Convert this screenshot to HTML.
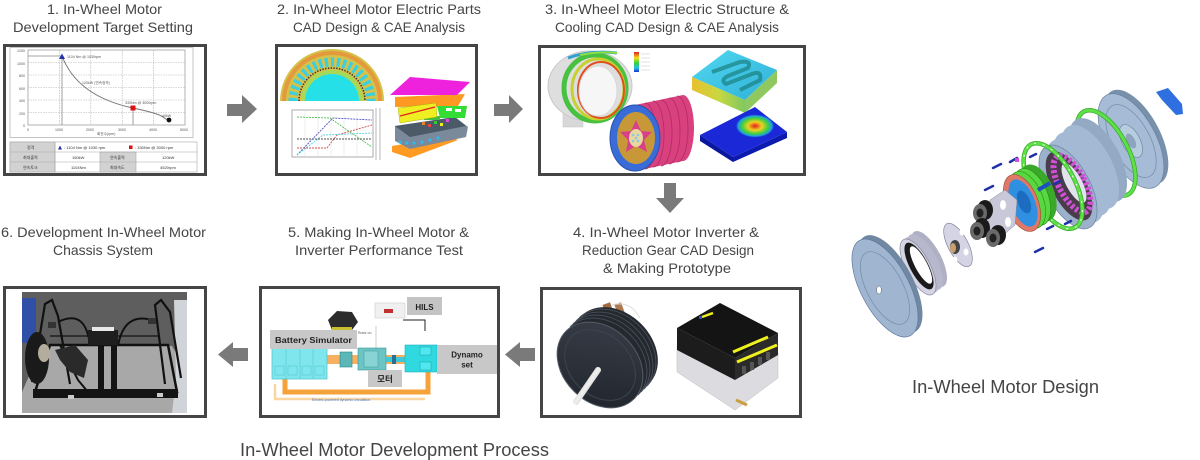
<!DOCTYPE html>
<html><head><meta charset="utf-8"><style>
html,body{margin:0;padding:0;background:#fff;}
svg{display:block;}
text{font-family:"Liberation Sans","Noto Sans CJK KR",sans-serif;}
</style></head><body>
<svg width="1200" height="460" viewBox="0 0 1200 460" xmlns="http://www.w3.org/2000/svg">
<defs>
<linearGradient id="rb" x1="0" y1="0" x2="0" y2="1">
<stop offset="0" stop-color="#e02020"/><stop offset="0.3" stop-color="#f0e020"/><stop offset="0.55" stop-color="#30d040"/><stop offset="0.8" stop-color="#20c0e0"/><stop offset="1" stop-color="#2030d0"/>
</linearGradient>
<linearGradient id="cy" x1="0" y1="0" x2="1" y2="1">
<stop offset="0" stop-color="#50d8f0"/><stop offset="1" stop-color="#30b0d8"/>
</linearGradient>
<linearGradient id="cyside" x1="0" y1="0" x2="1" y2="0">
<stop offset="0" stop-color="#e8c030"/><stop offset="0.5" stop-color="#c8d840"/><stop offset="1" stop-color="#80c860"/>
</linearGradient>
<radialGradient id="heat" cx="0.5" cy="0.5" r="0.5">
<stop offset="0" stop-color="#e02020"/><stop offset="0.35" stop-color="#f0d020"/><stop offset="0.65" stop-color="#40d040"/><stop offset="0.85" stop-color="#20a0e0"/><stop offset="1" stop-color="#1a28d0" stop-opacity="0"/>
</radialGradient>
<linearGradient id="shaft" x1="0" y1="0" x2="1" y2="1">
<stop offset="0" stop-color="#999"/><stop offset="0.5" stop-color="#f0f0f0"/><stop offset="1" stop-color="#888"/>
</linearGradient>
<linearGradient id="face" x1="0" y1="0" x2="1" y2="1">
<stop offset="0" stop-color="#3a404a"/><stop offset="1" stop-color="#1e232a"/>
</linearGradient>
</defs>

<!-- ===== Titles ===== -->
<g font-size="14" fill="#454545">
<text x="47" y="14" textLength="115" lengthAdjust="spacingAndGlyphs">1. In-Wheel Motor</text>
<text x="13" y="32" textLength="180" lengthAdjust="spacingAndGlyphs">Development Target Setting</text>
<text x="277" y="14" textLength="204" lengthAdjust="spacingAndGlyphs">2. In-Wheel Motor Electric Parts</text>
<text x="293" y="32" textLength="172" lengthAdjust="spacingAndGlyphs">CAD Design &amp; CAE Analysis</text>
<text x="545" y="14" textLength="244" lengthAdjust="spacingAndGlyphs">3. In-Wheel Motor Electric Structure &amp;</text>
<text x="555" y="32" textLength="224" lengthAdjust="spacingAndGlyphs">Cooling CAD Design &amp; CAE Analysis</text>
<text x="573" y="237" textLength="186" lengthAdjust="spacingAndGlyphs">4. In-Wheel Motor Inverter &amp;</text>
<text x="582" y="255" textLength="172" lengthAdjust="spacingAndGlyphs">Reduction Gear CAD Design</text>
<text x="603" y="273" textLength="128" lengthAdjust="spacingAndGlyphs">&amp; Making Prototype</text>
<text x="288" y="237" textLength="181" lengthAdjust="spacingAndGlyphs">5. Making In-Wheel Motor &amp;</text>
<text x="295" y="255" textLength="168" lengthAdjust="spacingAndGlyphs">Inverter Performance Test</text>
<text x="1" y="237" textLength="205" lengthAdjust="spacingAndGlyphs">6. Development In-Wheel Motor</text>
<text x="53" y="255" textLength="100" lengthAdjust="spacingAndGlyphs">Chassis System</text>
</g>
<text x="240" y="456" font-size="18" fill="#454545" textLength="309" lengthAdjust="spacingAndGlyphs">In-Wheel Motor Development Process</text>
<text x="912" y="393" font-size="18" fill="#454545" textLength="187" lengthAdjust="spacingAndGlyphs">In-Wheel Motor Design</text>

<!-- ===== Arrows ===== -->
<g fill="#7a7a7a">
<polygon points="227,104 242,104 242,95 257,109 242,123 242,116 227,116"/>
<polygon points="494,104 509,104 509,95 523,109 509,123 509,116 494,116"/>
<polygon points="664,183 676,183 676,198 684,198 670,213 656,198 664,198"/>
<polygon points="535,348 520,348 520,342 505,354.5 520,367 520,361 535,361"/>
<polygon points="248,348 233,348 233,342 218,354.5 233,367 233,361 248,361"/>
</g>

<!-- ===== Box 1 ===== -->
<g>
<rect x="4.5" y="45.5" width="201" height="129" fill="#fff" stroke="#454545" stroke-width="3"/>
<rect x="10" y="47.5" width="183" height="90" fill="#fff" stroke="#c4c4c4" stroke-width="1"/>
<rect x="28" y="50" width="157" height="75" fill="#fff" stroke="#a0a0a0" stroke-width="0.8"/>
<g stroke="#b0b0b0" stroke-width="0.6" stroke-dasharray="1.5 1">
<line x1="59.4" y1="50" x2="59.4" y2="125"/><line x1="90.8" y1="50" x2="90.8" y2="125"/>
<line x1="122.2" y1="50" x2="122.2" y2="125"/><line x1="153.6" y1="50" x2="153.6" y2="125"/>
<line x1="28" y1="62.5" x2="185" y2="62.5"/><line x1="28" y1="75" x2="185" y2="75"/>
<line x1="28" y1="87.5" x2="185" y2="87.5"/><line x1="28" y1="100" x2="185" y2="100"/>
<line x1="28" y1="112.5" x2="185" y2="112.5"/>
</g>
<g stroke="#888" stroke-width="0.8" fill="none">
<line x1="28" y1="56" x2="62" y2="56"/><line x1="62" y1="56" x2="62" y2="125"/>
<line x1="133" y1="108" x2="133" y2="125"/>
<path d="M62,56 C72,82 95,100 133,108 S160,118 169,120" stroke="#777" stroke-width="1"/>
</g>
<polygon points="59,59 65,59 62,53.5" fill="#2233aa"/>
<rect x="130.5" y="105.5" width="5" height="5" fill="#dd1111"/>
<circle cx="169" cy="120" r="2.4" fill="#111"/>
<g font-size="3.6" fill="#555">
<text x="67" y="58">1104 Nm @ 1030rpm</text>
<text x="82" y="84">120kW (연속정격)</text>
<text x="125" y="104">330Nm @ 3000rpm</text>
<text x="162" y="117">40kW</text>
<text x="17" y="52">1200</text><text x="17" y="65">1000</text><text x="19" y="77">800</text>
<text x="19" y="90">600</text><text x="19" y="102">400</text><text x="19" y="115">200</text><text x="23" y="127">0</text>
<text x="27" y="131">0</text><text x="55" y="131">1000</text><text x="86" y="131">2000</text>
<text x="118" y="131">3000</text><text x="149" y="131">4000</text><text x="180" y="131">5000</text>
<text x="97" y="135">회전수(rpm)</text>
</g>
<g stroke="#a8a8a8" stroke-width="0.6">
<rect x="10" y="142" width="187" height="30" fill="#fff"/>
<rect x="10" y="142" width="45" height="30" fill="#d2d2d2"/>
<rect x="100" y="152" width="36" height="20" fill="#d2d2d2"/>
<line x1="10" y1="152" x2="197" y2="152"/><line x1="10" y1="162" x2="197" y2="162"/>
<line x1="55" y1="142" x2="55" y2="172"/>
</g>
<polygon points="58,149.5 62,149.5 60,145.5" fill="#2233aa"/>
<rect x="129" y="145.5" width="3.5" height="3.5" fill="#dd1111"/>
<g font-size="4" fill="#333">
<text x="27" y="149">정격</text><text x="64" y="149">: 1104 Nm @ 1030 rpm</text><text x="135" y="149">: 330Nm @ 3000 rpm</text>
<text x="23" y="159">최대출력</text><text x="72" y="159">150kW</text><text x="110" y="159">연속출력</text><text x="162" y="159">120kW</text>
<text x="23" y="169">연속토크</text><text x="71" y="169">1104Nm</text><text x="110" y="169">최대속도</text><text x="160" y="169">4520rpm</text>
</g>
</g>

<!-- ===== Box 2 ===== -->
<g>
<rect x="276.5" y="45.5" width="200" height="129" fill="#fff" stroke="#454545" stroke-width="3"/>
<path d="M280,101 A52,52 0 0 1 384,101 Z" fill="#d4c24a"/>
<path d="M284,101 A48,48 0 0 1 380,101" fill="none" stroke="#e49a3c" stroke-width="4"/>
<path d="M293,101 A39,39 0 0 1 371,101" fill="none" stroke="#3ccfe0" stroke-width="9" stroke-dasharray="3.2 2.8"/>
<path d="M299,101 A33,33 0 0 1 365,101" fill="none" stroke="#3a3030" stroke-width="1.6" stroke-dasharray="1.4 1.4"/>
<path d="M301,101 A31,31 0 0 1 363,101 Z" fill="#a8d858"/>
<path d="M305,101 A27,27 0 0 1 359,101 Z" fill="#26e0e8"/>
<rect x="292" y="110" width="81" height="47" fill="#fff" stroke="#888" stroke-width="0.7"/>
<g stroke="#ddd" stroke-width="0.5">
<line x1="305" y1="110" x2="305" y2="157"/><line x1="318" y1="110" x2="318" y2="157"/><line x1="331" y1="110" x2="331" y2="157"/>
<line x1="344" y1="110" x2="344" y2="157"/><line x1="357" y1="110" x2="357" y2="157"/>
</g>
<line x1="376" y1="108" x2="376" y2="160" stroke="#888" stroke-width="0.6"/>
<line x1="380" y1="108" x2="380" y2="160" stroke="#888" stroke-width="0.6"/>
<g fill="none" stroke-width="0.9" stroke-dasharray="2 1">
<polyline points="297,155 333,118 372,120" stroke="#5050c0"/>
<polyline points="297,117 330,118 347,130 372,147" stroke="#50c050"/>
<polyline points="297,148 327,148 337,135 372,125" stroke="#d05050"/>
<polyline points="297,155 323,135 372,133" stroke="#50d0e0"/>
<line x1="297" y1="139" x2="372" y2="139" stroke="#505050"/>
</g>
<polygon points="392,146 448,136 458,140 410,158 392,152" fill="#ff9a22"/>
<polygon points="395,126 455,117 468,127 466,137 410,149 395,141" fill="#7a8a9a"/>
<polygon points="395,126 455,117 466,126 410,137" fill="#4c5a68"/>
<g fill="#30b8f0"><circle cx="400" cy="142" r="1.6"/><circle cx="407" cy="143" r="1.6"/><circle cx="414" cy="143" r="1.6"/><circle cx="422" cy="142" r="1.6"/><circle cx="430" cy="140" r="1.6"/><circle cx="438" cy="138" r="1.6"/></g>
<g><rect x="422" y="122" width="3" height="3" fill="#f08020"/><rect x="428" y="124" width="3" height="3" fill="#f04040"/><rect x="434" y="121" width="3" height="3" fill="#30d030"/><rect x="440" y="123" width="3" height="3" fill="#f0f020"/><rect x="446" y="119" width="3" height="3" fill="#f040f0"/><rect x="424" y="116" width="16" height="4" fill="#40c040"/></g>
<polygon points="395,97 465,94 458,106 395,107" fill="#ff9922"/>
<polygon points="390,95 410,77 470,82 457,95" fill="#ee22dd"/>
<polygon points="398,108 436,103 437,117 400,123" fill="#eeee22" stroke="#a0a000" stroke-width="0.4"/>
<line x1="400" y1="116" x2="435" y2="107" stroke="#e02020" stroke-width="1.2"/>
<polygon points="437,106 467,106 465,118 440,118" fill="#33dd33"/>
<rect x="446" y="108" width="6" height="3" fill="#fff"/><rect x="455" y="109" width="6" height="3" fill="#fff"/>
</g>

<!-- ===== Box 3 ===== -->
<g>
<rect x="539.5" y="46.5" width="265" height="128" fill="#fff" stroke="#454545" stroke-width="3"/>
<rect x="563" y="108" width="20" height="19" fill="#d8d8d8" stroke="#c4c4c4" stroke-width="0.5"/>
<ellipse cx="590" cy="86" rx="42" ry="35" fill="#dedede" stroke="#c8c8c8"/>
<ellipse cx="595" cy="88" rx="31" ry="33" fill="none" stroke="#48c040" stroke-width="5"/>
<ellipse cx="598" cy="89" rx="26" ry="30" fill="none" stroke="#c8d030" stroke-width="3"/>
<ellipse cx="601" cy="90" rx="23" ry="28" fill="none" stroke="#e05020" stroke-width="2"/>
<ellipse cx="598" cy="91" rx="19" ry="25" fill="#f6f6f6" stroke="#d8d8d8"/>
<path d="M568,58 Q590,50 617,53" stroke="#30a0d0" stroke-width="3" fill="none"/>
<path d="M580,55 Q600,51 617,53" stroke="#90e040" stroke-width="2" fill="none"/>
<rect x="634" y="52" width="5" height="20" fill="url(#rb)"/>
<g stroke="#ccc" stroke-width="0.6"><line x1="641" y1="54" x2="650" y2="54"/><line x1="641" y1="58" x2="650" y2="58"/><line x1="641" y1="62" x2="650" y2="62"/><line x1="641" y1="66" x2="650" y2="66"/><line x1="641" y1="70" x2="650" y2="70"/></g>
<polygon points="692,77 745,100 745,113 692,90" fill="url(#cyside)"/>
<polygon points="745,100 777,70 777,83 745,113" fill="#90c860"/>
<polygon points="692,77 728,50 777,70 745,100" fill="url(#cy)"/>
<path d="M712,72 L740,62 Q752,60 748,68 L728,76 Q720,80 726,84 L752,74 Q762,70 760,80 L740,90" stroke="#1a8080" stroke-width="4" fill="none" opacity="0.7"/>
<polygon points="700,135 733,157 733,162 700,141" fill="#0a18a0"/>
<polygon points="733,157 787,132 787,138 733,162" fill="#0c1ab0"/>
<polygon points="700,135 755,107 787,132 733,157" fill="#1a28d8"/>
<ellipse cx="755" cy="126" rx="20" ry="12" fill="url(#heat)"/>
<path d="M635,105 L683,95 A11,33 0 0 1 683,161 L635,171 Z" fill="#d8407e"/>
<g stroke="#b02c64" stroke-width="0.8" fill="none">
<path d="M645,103 A11,33 0 0 1 645,169"/><path d="M653,101 A11,33 0 0 1 653,167"/><path d="M661,100 A11,33 0 0 1 661,166"/><path d="M669,98 A11,33 0 0 1 669,164"/><path d="M677,96 A11,33 0 0 1 677,162"/>
</g>
<ellipse cx="635" cy="138" rx="25" ry="33" fill="#3a6cd8" stroke="#2850b0"/>
<ellipse cx="636" cy="138" rx="19" ry="26" fill="#c89838"/>
<polygon points="636,120 641,131 652,132 644,140 647,152 636,146 626,152 628,140 620,132 631,131" fill="#d8408a"/>
<ellipse cx="636" cy="138" rx="7" ry="9" fill="#e8d8a0"/>
<g fill="#88c8e8"><circle cx="633" cy="135" r="1.3"/><circle cx="638" cy="135" r="1.3"/><circle cx="633" cy="141" r="1.3"/><circle cx="638" cy="141" r="1.3"/><circle cx="636" cy="138" r="1.3"/></g>
</g>

<!-- ===== Box 4 ===== -->
<g>
<rect x="541.5" y="288.5" width="259" height="128" fill="#fff" stroke="#454545" stroke-width="3"/>
<rect x="606" y="303" width="8" height="22" fill="#a06a40" transform="rotate(-20 610 314)"/>
<rect x="618" y="303" width="7" height="22" fill="#b07a50" transform="rotate(-20 621 314)"/>
<path d="M612,305 Q630,300 640,318" stroke="#ddd" stroke-width="1" fill="none"/>
<g fill="#242930">
<ellipse cx="615" cy="350" rx="48" ry="37" transform="rotate(45 615 350)"/>
<ellipse cx="612" cy="353" rx="48" ry="37" transform="rotate(45 612 353)"/>
<ellipse cx="609" cy="356" rx="48" ry="37" transform="rotate(45 609 356)"/>
<ellipse cx="606" cy="359" rx="48" ry="37" transform="rotate(45 606 359)"/>
<ellipse cx="603" cy="362" rx="48" ry="37" transform="rotate(45 603 362)"/>
</g>
<g fill="none" stroke="#4a505a" stroke-width="0.9">
<path d="M566,331 A48,37 45 0 1 634,399" transform="translate(4,-4)"/>
<path d="M566,331 A48,37 45 0 1 634,399" transform="translate(7,-7)"/>
<path d="M566,331 A48,37 45 0 1 634,399" transform="translate(10,-10)"/>
<path d="M566,331 A48,37 45 0 1 634,399" transform="translate(13,-13)"/>
</g>
<ellipse cx="600" cy="365" rx="48" ry="37" fill="url(#face)" stroke="#555b66" stroke-width="1" transform="rotate(45 600 365)"/>
<ellipse cx="600" cy="365" rx="40" ry="30" fill="none" stroke="#3e444e" stroke-width="1" transform="rotate(45 600 365)"/>
<line x1="598" y1="370" x2="576" y2="402" stroke="url(#shaft)" stroke-width="6" stroke-linecap="round"/>
<polygon points="677,345 735,377 778,352 778,378 735,410 677,372" fill="#dcdce0" stroke="#bbb" stroke-width="0.5"/>
<polygon points="677,328 735,358 735,380 677,350" fill="#1c1c1c"/>
<polygon points="735,358 778,333 778,355 735,380" fill="#2a2a2a"/>
<polygon points="677,328 720,303 778,333 735,358" fill="#141414"/>
<line x1="733" y1="352" x2="768" y2="337" stroke="#f0f020" stroke-width="3"/>
<line x1="737" y1="362" x2="777" y2="345" stroke="#f0f020" stroke-width="3"/>
<line x1="702" y1="317" x2="713" y2="313" stroke="#f0f020" stroke-width="2.5"/>
<rect x="699" y="316" width="3" height="3" fill="#3050d0"/>
<g fill="#555"><rect x="742" y="366" width="4" height="8"/><rect x="750" y="362" width="4" height="8"/><rect x="758" y="357" width="4" height="8"/><rect x="766" y="352" width="4" height="8"/></g>
<line x1="736" y1="400" x2="747" y2="405" stroke="#c8a040" stroke-width="3"/>
</g>

<!-- ===== Box 5 ===== -->
<g>
<rect x="260.5" y="287.5" width="238" height="129" fill="#fff" stroke="#454545" stroke-width="3"/>
<rect x="375" y="303" width="30" height="15" fill="#f0f0f0" stroke="#ccc" stroke-width="0.6"/>
<rect x="384" y="309" width="9" height="4" fill="#c03030"/>
<rect x="407" y="297" width="35" height="18" fill="#c4c4c4"/>
<text x="424.5" y="310" font-size="8" font-weight="bold" fill="#222" text-anchor="middle">HILS</text>
<path d="M403,320 L425,320 L425,331" stroke="#222" stroke-width="1" fill="none"/>
<polygon points="328,320 337,311 352,312 358,322 352,330 332,330" fill="#2c2c2c"/>
<rect x="332" y="327" width="20" height="3" fill="#c8c030"/>
<rect x="327" y="355" width="80" height="9" fill="#f7b060"/>
<path d="M428,372 L428,392 L285,392 L285,378" stroke="#f5a23a" stroke-width="5" fill="none"/>
<path d="M425,399 L275,399 L275,384" stroke="#fbd6a0" stroke-width="2.5" fill="none"/>
<text x="312" y="401" font-size="3.6" fill="#4a7bc8">Electric-powered dynamic circulation</text>
<rect x="272" y="347" width="55" height="32" fill="#80e6ee" stroke="#50c8d0" stroke-width="0.8"/>
<g stroke="#50c8d0" stroke-width="0.6" fill="none">
<line x1="286" y1="347" x2="286" y2="379"/><line x1="300" y1="347" x2="300" y2="379"/><line x1="313" y1="347" x2="313" y2="379"/>
<rect x="275" y="366" width="9" height="9"/><rect x="288" y="366" width="9" height="9"/><rect x="302" y="366" width="9" height="9"/><rect x="315" y="366" width="9" height="9"/>
</g>
<rect x="340" y="352" width="12" height="15" fill="#5cb8b8" stroke="#2a8888" stroke-width="0.6"/>
<rect x="358" y="348" width="28" height="22" fill="#6cc4c4" stroke="#3a9898" stroke-width="0.6"/>
<rect x="364" y="351" width="14" height="16" fill="#88d4d4" stroke="#3a9898" stroke-width="0.5"/>
<line x1="376" y1="326" x2="376" y2="348" stroke="#999" stroke-width="0.5"/>
<text x="358" y="334" font-size="3.5" fill="#555">Rotor on</text>
<rect x="386" y="357" width="20" height="5" fill="#40c8d8"/>
<rect x="392" y="355" width="4" height="9" fill="#2a7090"/>
<rect x="405" y="345" width="32" height="27" fill="#30d8e0" stroke="#20b0c0" stroke-width="0.6"/>
<rect x="420" y="347" width="11" height="8" fill="#50e8f0" stroke="#1aa0b0" stroke-width="0.5"/>
<rect x="420" y="362" width="11" height="8" fill="#50e8f0" stroke="#1aa0b0" stroke-width="0.5"/>
<rect x="270" y="330" width="87" height="19" fill="#c8c8c8"/>
<text x="275" y="343" font-size="8.5" font-weight="bold" fill="#222" textLength="77" lengthAdjust="spacingAndGlyphs">Battery Simulator</text>
<rect x="437" y="345" width="60" height="29" fill="#c8c8c8"/>
<text x="467" y="357.5" font-size="8" font-weight="bold" fill="#222" text-anchor="middle">Dynamo</text>
<text x="467" y="367.5" font-size="8" font-weight="bold" fill="#222" text-anchor="middle">set</text>
<rect x="368" y="370" width="34" height="17" fill="#c8c8c8"/>
<text x="385" y="382" font-size="8.5" font-weight="bold" fill="#222" text-anchor="middle" font-family="'Noto Sans CJK KR','NanumGothic',sans-serif">모터</text>
</g>

<!-- ===== Box 6 ===== -->
<g>
<rect x="4.5" y="287.5" width="201" height="129" fill="#fff" stroke="#454545" stroke-width="3"/>
<rect x="22" y="292" width="165" height="121" fill="#5e5e5e"/>
<polygon points="42,346 172,346 187,372 187,413 22,413 22,392" fill="#a8a8a8"/>
<rect x="22" y="298" width="14" height="45" fill="#3050a8"/>
<polygon points="174,300 187,300 187,413 172,413 176,380" fill="#d0d4d8"/>
<g stroke="#111" fill="none">
<path d="M50,345 L168,345 L177,392 L35,392 Z" stroke-width="2.5"/>
<path d="M32,382 L45,304 L52,300 L58,316 L70,384" stroke-width="2.2"/>
<path d="M165,384 L155,305 L161,300 L170,312 L181,378" stroke-width="2.2"/>
<path d="M58,322 Q86,308 90,346" stroke-width="2"/>
<path d="M118,346 Q124,312 152,320" stroke-width="2"/>
<path d="M50,336 L95,336 M117,336 L160,336" stroke-width="1.3"/>
<path d="M60,345 L78,380 L88,392" stroke-width="2"/>
</g>
<rect x="33" y="389" width="145" height="9" fill="#141414"/>
<rect x="88" y="330" width="30" height="15" fill="#1e1e1e"/>
<rect x="92" y="327" width="22" height="4" fill="#e8e8e8"/>
<rect x="98" y="345" width="6" height="45" fill="#141414"/>
<rect x="111" y="345" width="6" height="45" fill="#141414"/>
<ellipse cx="37" cy="358" rx="12" ry="26" fill="#1a1a1a"/>
<ellipse cx="44" cy="353" rx="6" ry="9" fill="#b4ac9c"/>
<polygon points="55,350 75,345 88,360 84,378 70,372 60,360" fill="#2a2a2a"/>
<rect x="48" y="322" width="8" height="6" fill="#333"/>
<rect x="148" y="318" width="8" height="6" fill="#333"/>
<rect x="68" y="395" width="6" height="4" fill="#ccc"/>
<rect x="157" y="393" width="6" height="4" fill="#ccc"/>
</g>

<!-- ===== Exploded motor ===== -->
<g>
<ellipse cx="1136" cy="137" rx="24" ry="52" fill="#7890aa" transform="rotate(-28 1136 137)"/>
<ellipse cx="1131" cy="141" rx="25" ry="52" fill="#a6bcd6" stroke="#6a82a0" stroke-width="0.7" transform="rotate(-28 1131 141)"/>
<ellipse cx="1131" cy="141" rx="19" ry="40" fill="none" stroke="#7890aa" stroke-width="0.8" transform="rotate(-28 1131 141)"/>
<ellipse cx="1131" cy="141" rx="9" ry="18" fill="#b8cce0" stroke="#7890aa" stroke-width="0.8" transform="rotate(-28 1131 141)"/>
<ellipse cx="1131" cy="141" rx="4" ry="8" fill="#8ea4be" transform="rotate(-28 1131 141)"/>
<polygon points="1156,92 1168,88 1182,104 1183,114 1176,115 1162,100" fill="#2f6fe0"/>
<ellipse cx="1106" cy="153" rx="22" ry="47" fill="none" stroke="#3aa82a" stroke-width="4.5" transform="rotate(-28 1106 153)"/>
<ellipse cx="1106" cy="153" rx="22" ry="47" fill="none" stroke="#5ee048" stroke-width="3" transform="rotate(-28 1106 153)"/>
<ellipse cx="1098" cy="160" rx="22" ry="46" fill="#94aac4" transform="rotate(-28 1098 160)"/>
<ellipse cx="1090" cy="167" rx="22" ry="46" fill="#a4bad4" transform="rotate(-28 1090 167)"/>
<ellipse cx="1082" cy="174" rx="22" ry="46" fill="#a4bad4" transform="rotate(-28 1082 174)"/>
<ellipse cx="1075" cy="181" rx="22" ry="46" fill="#a4bad4" transform="rotate(-28 1075 181)"/>
<ellipse cx="1068" cy="187" rx="22" ry="46" fill="#9cb2cc" stroke="#6a82a0" stroke-width="0.7" transform="rotate(-28 1068 187)"/>
<ellipse cx="1069" cy="186" rx="17" ry="38" fill="#4a3c4a" transform="rotate(-28 1069 186)"/>
<ellipse cx="1072" cy="184" rx="13" ry="31" fill="none" stroke="#d050d8" stroke-width="6" stroke-dasharray="3 2" transform="rotate(-28 1072 184)"/>
<ellipse cx="1074" cy="183" rx="8" ry="22" fill="#e0e4ec" transform="rotate(-28 1074 183)"/>
<ellipse cx="1053" cy="186" rx="22" ry="47" fill="none" stroke="#3aa82a" stroke-width="4.5" transform="rotate(-28 1053 186)"/>
<ellipse cx="1053" cy="186" rx="22" ry="47" fill="none" stroke="#5ee048" stroke-width="3" transform="rotate(-28 1053 186)"/>
<ellipse cx="1053" cy="186" rx="22" ry="47" fill="none" stroke="#fff" stroke-width="1" stroke-dasharray="2 7" transform="rotate(-28 1053 186)"/>
<ellipse cx="1038" cy="193" rx="16" ry="30" fill="#3aa828" transform="rotate(-22 1038 193)"/>
<ellipse cx="1032" cy="197" rx="16" ry="30" fill="#58d840" stroke="#2a8818" stroke-width="0.6" transform="rotate(-22 1032 197)"/>
<ellipse cx="1027" cy="200" rx="16" ry="30" fill="#58d840" stroke="#2a8818" stroke-width="0.6" transform="rotate(-22 1027 200)"/>
<ellipse cx="1022" cy="203" rx="16" ry="30" fill="#e07868" stroke="#a04838" stroke-width="0.6" transform="rotate(-22 1022 203)"/>
<ellipse cx="1023" cy="203" rx="12" ry="25" fill="#2f8fe0" transform="rotate(-22 1023 203)"/>
<ellipse cx="1024" cy="202" rx="6" ry="12" fill="#1c6cc0" transform="rotate(-22 1024 202)"/>
<line x1="1038" y1="190" x2="1050" y2="183" stroke="#2050c0" stroke-width="4"/>
<polygon points="990,200 1005,190 1017,200 1015,225 1000,238 988,228" fill="#c8c8d8" stroke="#8888a0" stroke-width="0.5"/>
<ellipse cx="1003" cy="205" rx="3" ry="5" fill="#fff"/>
<ellipse cx="1008" cy="222" rx="3" ry="5" fill="#fff"/>
<ellipse cx="985" cy="210" rx="8" ry="10" fill="#1a1a1a"/><ellipse cx="980" cy="213" rx="7" ry="9" fill="#6a6a6a"/><ellipse cx="980" cy="213" rx="3.5" ry="4.5" fill="#222"/>
<ellipse cx="982" cy="228" rx="8" ry="10" fill="#1a1a1a"/><ellipse cx="977" cy="231" rx="7" ry="9" fill="#6a6a6a"/><ellipse cx="977" cy="231" rx="3.5" ry="4.5" fill="#222"/>
<ellipse cx="998" cy="235" rx="8" ry="10" fill="#1a1a1a"/><ellipse cx="993" cy="238" rx="7" ry="9" fill="#6a6a6a"/><ellipse cx="993" cy="238" rx="3.5" ry="4.5" fill="#222"/>
<ellipse cx="958" cy="245" rx="10" ry="24" fill="#d4d4e4" stroke="#8888a0" stroke-width="0.7" transform="rotate(-28 958 245)"/>
<ellipse cx="962" cy="232" rx="2.5" ry="3.5" fill="#fff"/>
<ellipse cx="966" cy="252" rx="2.5" ry="3.5" fill="#fff"/>
<ellipse cx="955" cy="260" rx="2.5" ry="3.5" fill="#fff"/>
<ellipse cx="955" cy="247" rx="5" ry="7" fill="#444"/>
<ellipse cx="953" cy="248" rx="3" ry="5" fill="#c8a070"/>
<ellipse cx="929" cy="259" rx="12" ry="31" fill="#b0b0c4" transform="rotate(-28 929 259)"/>
<ellipse cx="925" cy="262" rx="12" ry="31" fill="#b8b8cc" transform="rotate(-28 925 262)"/>
<ellipse cx="921" cy="265" rx="12" ry="31" fill="#b8b8cc" transform="rotate(-28 921 265)"/>
<ellipse cx="918" cy="267" rx="12" ry="31" fill="#d4d4e4" stroke="#8888a0" stroke-width="0.7" transform="rotate(-28 918 267)"/>
<ellipse cx="919" cy="266" rx="9" ry="26" fill="#1a1a1a" transform="rotate(-28 919 266)"/>
<ellipse cx="921" cy="265" rx="6" ry="21" fill="#fff" transform="rotate(-28 921 265)"/>
<ellipse cx="890" cy="284" rx="23" ry="54" fill="#7088a2" transform="rotate(-28 890 284)"/>
<ellipse cx="885" cy="288" rx="24" ry="54" fill="#a0b6d0" stroke="#6078a0" stroke-width="0.7" transform="rotate(-28 885 288)"/>
<ellipse cx="885" cy="288" rx="18" ry="40" fill="none" stroke="#7890aa" stroke-width="0.8" transform="rotate(-28 885 288)"/>
<ellipse cx="879" cy="290" rx="2.5" ry="4" fill="#fff" stroke="#556" stroke-width="0.5"/>
<g stroke="#2030a8" stroke-width="2.5" stroke-linecap="round">
<line x1="993" y1="168" x2="1001" y2="164"/><line x1="1010" y1="162" x2="1017" y2="158"/>
<line x1="985" y1="190" x2="993" y2="186"/><line x1="1035" y1="252" x2="1043" y2="248"/>
<line x1="1030" y1="157" x2="1036" y2="154"/><line x1="1047" y1="229" x2="1053" y2="226"/>
<line x1="1065" y1="224" x2="1071" y2="221"/><line x1="1054" y1="184" x2="1060" y2="181"/>
</g>
<rect x="1015" y="158" width="4" height="4" fill="#d050d8"/>
</g>
</svg>
</body></html>
